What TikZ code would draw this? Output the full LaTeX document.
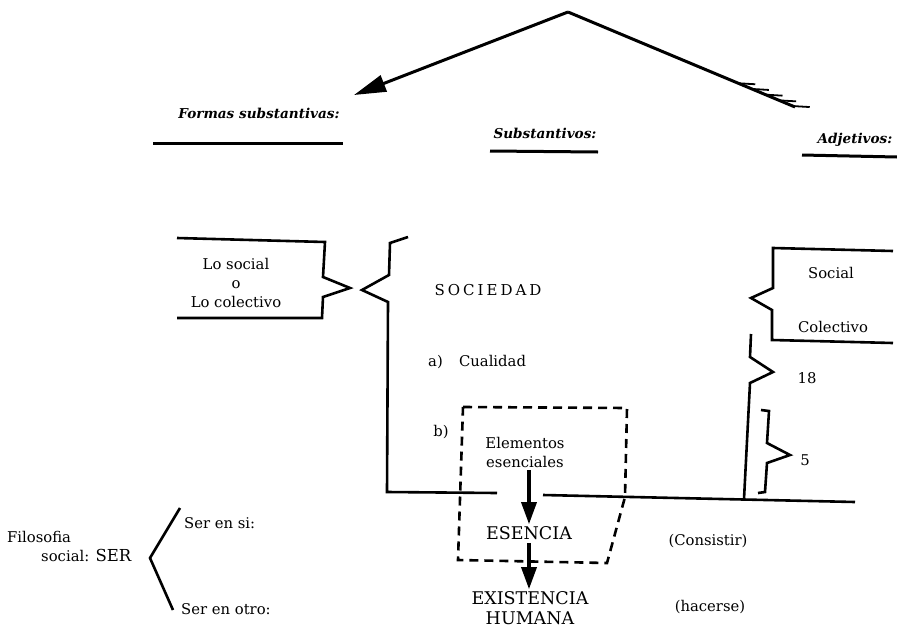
\documentclass[tikz,border=0pt]{standalone}
\usepackage{fontspec}
\setmainfont{DejaVu Serif}
\usetikzlibrary{arrows.meta,calc}
\begin{document}
\begin{tikzpicture}[
    x=1pt, y=-1pt,
    important line/.style={line width=2.6pt, line join=miter},
    roof line/.style={line width=3pt},
    dashed line/.style={line width=2.6pt, dash pattern=on 9pt off 6pt},
    pile/.style={line width=3.4pt, -{Triangle[length=22pt,width=15pt]},
    shorten <=2pt, shorten >=1pt},
    head line/.style={line width=3pt},
    hatch/.style={line width=1.8pt},
    heading/.style={font=\fontsize{13.6}{16}\selectfont\bfseries\itshape},
    txt/.style={font=\fontsize{14.8}{19}\selectfont, align=center},
    caps/.style={font=\fontsize{17.5}{20}\selectfont, align=center},
    every node/.style={color=black, inner sep=1pt}
    ]
    \useasboundingbox (0,0) rectangle (897,627);
    % roof
    \coordinate (apex) at (568,12);
    \coordinate (ftip) at (354,95);
    \coordinate (rend) at (795,107);
    \draw[roof line, -{Triangle[length=32pt,width=17pt]}] (apex) -- (ftip);
    \draw[roof line] (apex) -- (rend);
    \foreach \p in {0.75,0.81,0.87,0.93,0.99}
        \draw[hatch] ($(apex)!\p!(rend)$) -- ++(17,1);
    % headings
    \node[heading] (formas) at (259,113) {Formas substantivas:};
    \draw[head line] (153,143) -- (343,143);
    \node[heading] (subst) at (545,133) {Substantivos:};
    \draw[head line] (490,151) -- (598,152);
    \node[heading] (adjet) at (855,140) {Adjetivos:};
    \draw[head line] (802,155) -- (897,157);
    % left box
    \draw[important line] (177,238) -- (325,242) -- (323,277) -- (350,288)
        -- (323,297) -- (322,318) -- (177,318);
    \node[txt] (losoc) at (236,283) {Lo social\\o\\Lo colectivo};
    % big brace and base line
    \draw[important line] (408,237) -- (390,243) -- (389,275) -- (362,290)
        -- (388,302) -- (387,492) -- (497,493);
    \draw[important line] (543,495) -- (855,502);
    \node[txt, font=\fontsize{15}{18}\selectfont] (soc) at (488,290)
        {S\kern3pt O\kern3pt C\kern3pt I\kern3pt E\kern3pt D\kern3pt A\kern3pt D};
    \node[txt, anchor=west] (qa) at (427,362) {a)\hspace{1.1em}Cualidad};
    \node[txt] (qb) at (441,432) {b)};
    % dashed box
    \draw[dashed line] (463,407) -- (627,408) -- (625,497) -- (607,563)
        -- (458,560) -- cycle;
    \node[txt] (elem) at (525,452) {Elementos\\esenciales};
    \node[caps] (esen) at (529,533) {ESENCIA};
    \node[caps] (exist) at (530,608) {EXISTENCIA\\HUMANA};
    \draw[pile] (esen.north |- elem.south) -- (esen.north);
    \draw[pile] (esen.south) -- (esen.south |- exist.north);
    % right side
    \draw[important line] (893,251) -- (773,248) -- (773,288) -- (751,298)
        -- (772,310) -- (772,340) -- (893,343);
    \node[txt] (socl) at (831,273) {Social};
    \node[txt] (colec) at (833,327) {Colectivo};
    \draw[important line] (751,334) -- (750,357) -- (773,372) -- (750,383)
        -- (744,499);
    \node[txt] (n18) at (807,378) {18};
    \draw[important line] (761,410) -- (769,411) -- (767,443) -- (790,455)
        -- (767,463) -- (765,492) -- (758,493);
    \node[txt] (n5) at (805,460) {5};
    % filosofia social
    \node[txt, align=left, anchor=west] (filo) at (6,546)
        {Filosofia\\\hspace{2.3em}social: {\fontsize{16.5}{19}\selectfont SER}};
    \draw[important line] (180,508) -- (150,558) -- (173,610);
    \node[txt, anchor=west] (ensi) at (183,523) {Ser en si:};
    \node[txt, anchor=west] (enotro) at (180,609) {Ser en otro:};
    \node[txt] (consis) at (708,541) {(Consistir)};
    \node[txt] (hacer) at (710,607) {(hacerse)};
\end{tikzpicture}
\end{document}
